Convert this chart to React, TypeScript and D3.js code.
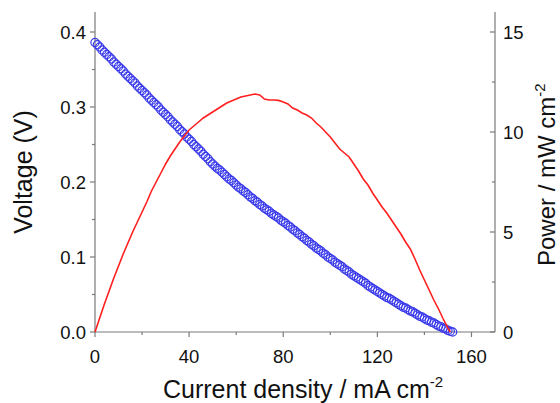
import React, { useEffect, useRef } from 'react';
import * as d3 from 'd3';

// polarization data (current density in mA cm-2, voltage in V)
const currents = [
  0, 1, 2, 3, 4, 5, 6, 7, 8, 9,
  10, 11, 12, 13, 14, 15, 16, 17, 18, 19,
  20, 21, 22, 23, 24, 25, 26, 27, 28, 29,
  30, 31, 32, 33, 34, 35, 36, 37, 38, 39,
  40, 41, 42, 43, 44, 45, 46, 47, 48, 49,
  50, 51, 52, 53, 54, 55, 56, 57, 58, 59,
  60, 61, 62, 63, 64, 65, 66, 67, 68, 69,
  70, 71, 72, 73, 74, 75, 76, 77, 78, 79,
  80, 81, 82, 83, 84, 85, 86, 87, 88, 89,
  90, 91, 92, 93, 94, 95, 96, 97, 98, 99,
  100, 101, 102, 103, 104, 105, 106, 107, 108, 109,
  110, 111, 112, 113, 114, 115, 116, 117, 118, 119,
  120, 121, 122, 123, 124, 125, 126, 127, 128, 129,
  130, 131, 132, 133, 134, 135, 136, 137, 138, 139,
  140, 141, 142, 143, 144, 145, 146, 147, 148, 149,
  150, 151, 152,
];
const voltages = [
  0.386, 0.383, 0.380, 0.376, 0.373, 0.370, 0.367, 0.364, 0.360, 0.357,
  0.354, 0.351, 0.348, 0.344, 0.341, 0.338, 0.335, 0.332, 0.328, 0.325,
  0.322, 0.319, 0.316, 0.312, 0.309, 0.306, 0.303, 0.300, 0.296, 0.293,
  0.290, 0.287, 0.283, 0.280, 0.277, 0.274, 0.270, 0.267, 0.264, 0.260,
  0.257, 0.254, 0.250, 0.247, 0.244, 0.241, 0.237, 0.234, 0.231, 0.227,
  0.224, 0.221, 0.218, 0.216, 0.213, 0.210, 0.207, 0.204, 0.202, 0.199,
  0.196, 0.193, 0.191, 0.188, 0.186, 0.183, 0.180, 0.178, 0.175, 0.173,
  0.170, 0.168, 0.165, 0.163, 0.161, 0.158, 0.156, 0.154, 0.152, 0.149,
  0.147, 0.145, 0.142, 0.140, 0.137, 0.135, 0.132, 0.130, 0.127, 0.125,
  0.122, 0.120, 0.117, 0.115, 0.112, 0.110, 0.108, 0.105, 0.103, 0.100,
  0.098, 0.096, 0.093, 0.091, 0.089, 0.087, 0.084, 0.082, 0.080, 0.077,
  0.075, 0.073, 0.071, 0.069, 0.067, 0.065, 0.062, 0.060, 0.058, 0.056,
  0.054, 0.052, 0.050, 0.048, 0.046, 0.045, 0.043, 0.041, 0.039, 0.037,
  0.035, 0.033, 0.032, 0.030, 0.028, 0.027, 0.025, 0.023, 0.021, 0.020,
  0.018, 0.016, 0.015, 0.013, 0.012, 0.010, 0.008, 0.007, 0.005, 0.004,
  0.002, 0.001, 0.000,
];

// power density curve (mA cm-2 -> mW cm-2)
const powerCurrents = [
  0, 2, 4, 6, 8, 10, 12, 14, 16, 18, 20, 22, 24, 26, 28, 30, 32, 34, 36, 38,
  40, 42, 44, 46, 48, 50, 52, 54, 56, 58, 60, 62, 64, 66, 68, 70, 72, 74, 76, 78,
  80, 82, 84, 86, 88, 90, 92, 94, 96, 98, 100, 102, 104, 106, 108, 110, 112, 114, 116, 118,
  120, 122, 124, 126, 128, 130, 132, 134, 136, 138, 140, 142, 144, 146, 148, 150, 151,
];
const powers = [
  0, 0.7, 1.4, 2.05, 2.7, 3.3, 3.9, 4.45, 5.0, 5.5, 6.0, 6.5, 7.05, 7.5, 7.95, 8.4, 8.8, 9.15, 9.5, 9.8,
  10.1, 10.3, 10.5, 10.7, 10.85, 11.0, 11.15, 11.3, 11.45, 11.55, 11.65, 11.75, 11.8, 11.85, 11.9, 11.85, 11.65, 11.6, 11.6, 11.58,
  11.5, 11.4, 11.2, 11.1, 10.95, 10.85, 10.7, 10.45, 10.25, 10.0, 9.75, 9.45, 9.15, 8.95, 8.75, 8.4, 8.05, 7.65, 7.35, 6.95,
  6.6, 6.25, 5.95, 5.6, 5.25, 4.9, 4.5, 4.15, 3.65, 3.1, 2.6, 2.1, 1.6, 1.15, 0.65, 0.2, 0,
];

const xTicks = [0, 40, 80, 120, 160];
const xMinor = [20, 60, 100, 140];
const vTicks = [0, 0.1, 0.2, 0.3, 0.4];
const vMinor = [0.05, 0.15, 0.25, 0.35];
const pTicks = [0, 5, 10, 15];
const pMinor = [2.5, 7.5, 12.5];

const W = 560;
const H = 403;
const FONT = 'Liberation Sans, Arial, Helvetica, sans-serif';
const AXIS = '#7a7a7a';

const App = () => {
  const ref = useRef<SVGSVGElement | null>(null);

  useEffect(() => {
    if (!ref.current) return;
    const svg = d3.select(ref.current);
    svg.selectAll('*').remove();

    const left = 95, right = 495, top = 12, bottom = 332;

    const x = d3.scaleLinear().domain([0, 170]).range([left, right]);
    const yV = d3.scaleLinear().domain([0, 16 / 37.5]).range([bottom, top]);
    const yP = d3.scaleLinear().domain([0, 16]).range([bottom, top]);

    const major = 5, minor = 3;

    // axis lines
    const g = svg.append('g');
    g.append('line').attr('x1', left).attr('x2', right).attr('y1', bottom).attr('y2', bottom);
    g.append('line').attr('x1', left).attr('x2', left).attr('y1', top).attr('y2', bottom);
    g.append('line').attr('x1', right).attr('x2', right).attr('y1', top).attr('y2', bottom);
    g.selectAll('line').attr('stroke', AXIS).attr('stroke-width', 1.2);

    // bottom ticks (outward)
    xTicks.forEach(t => {
      g.append('line').attr('x1', x(t)).attr('x2', x(t)).attr('y1', bottom).attr('y2', bottom + major)
        .attr('stroke', AXIS).attr('stroke-width', 1.2);
      g.append('text').attr('x', x(t)).attr('y', 363).attr('text-anchor', 'middle')
        .attr('font-size', 18.5).attr('font-family', FONT).attr('fill', '#111').text(t);
    });
    xMinor.forEach(t => {
      g.append('line').attr('x1', x(t)).attr('x2', x(t)).attr('y1', bottom).attr('y2', bottom + minor)
        .attr('stroke', AXIS).attr('stroke-width', 1.2);
    });

    // left ticks (outward)
    vTicks.forEach(t => {
      g.append('line').attr('x1', left - major).attr('x2', left).attr('y1', yV(t)).attr('y2', yV(t))
        .attr('stroke', AXIS).attr('stroke-width', 1.2);
      g.append('text').attr('x', left - 9).attr('y', yV(t)).attr('dy', '0.36em').attr('text-anchor', 'end')
        .attr('font-size', 18.5).attr('font-family', FONT).attr('fill', '#111').text(d3.format('.1f')(t));
    });
    vMinor.forEach(t => {
      g.append('line').attr('x1', left - minor).attr('x2', left).attr('y1', yV(t)).attr('y2', yV(t))
        .attr('stroke', AXIS).attr('stroke-width', 1.2);
    });

    // right ticks (inward)
    pTicks.forEach(t => {
      g.append('line').attr('x1', right - major).attr('x2', right).attr('y1', yP(t)).attr('y2', yP(t))
        .attr('stroke', AXIS).attr('stroke-width', 1.2);
      g.append('text').attr('x', right + 8).attr('y', yP(t)).attr('dy', '0.36em').attr('text-anchor', 'start')
        .attr('font-size', 18.5).attr('font-family', FONT).attr('fill', '#111').text(t);
    });
    pMinor.forEach(t => {
      g.append('line').attr('x1', right - minor).attr('x2', right).attr('y1', yP(t)).attr('y2', yP(t))
        .attr('stroke', AXIS).attr('stroke-width', 1.2);
    });

    // voltage points: open blue circles
    const pts = currents.map((c, i) => [c, voltages[i]] as [number, number]);
    svg.append('g').selectAll('circle').data(pts).enter().append('circle')
      .attr('cx', d => x(d[0]))
      .attr('cy', d => yV(d[1]))
      .attr('r', 4.1)
      .attr('fill', 'none')
      .attr('stroke', '#3838ea')
      .attr('stroke-width', 1.2);

    // power curve: red line
    const pw = powerCurrents.map((c, i) => [c, powers[i]] as [number, number]);
    const line = d3.line<[number, number]>().x(d => x(d[0])).y(d => yP(d[1]));
    svg.append('path').datum(pw).attr('d', line).attr('fill', 'none')
      .attr('stroke', '#ff1f1f').attr('stroke-width', 1.6);

    // axis titles
    const xt = svg.append('text').attr('x', 163).attr('y', 398)
      .attr('font-size', 25).attr('font-family', FONT).attr('fill', '#111');
    xt.append('tspan').text('Current density / mA cm');
    xt.append('tspan').attr('dy', -11).attr('font-size', 15).text('-2');

    svg.append('text').attr('transform', 'translate(32,172) rotate(-90)')
      .attr('text-anchor', 'middle').attr('font-size', 25).attr('font-family', FONT).attr('fill', '#111')
      .text('Voltage (V)');

    const pt = svg.append('text').attr('transform', 'translate(555,266) rotate(-90)')
      .attr('font-size', 24).attr('font-family', FONT).attr('fill', '#111');
    pt.append('tspan').text('Power / mW cm');
    pt.append('tspan').attr('dy', -10).attr('font-size', 15).text('-2');
  }, []);

  return (
    <svg ref={ref} width={W} height={H}
      style={{ position: 'absolute', left: 0, top: 0, background: '#fff' }} />
  );
};

export default App;
